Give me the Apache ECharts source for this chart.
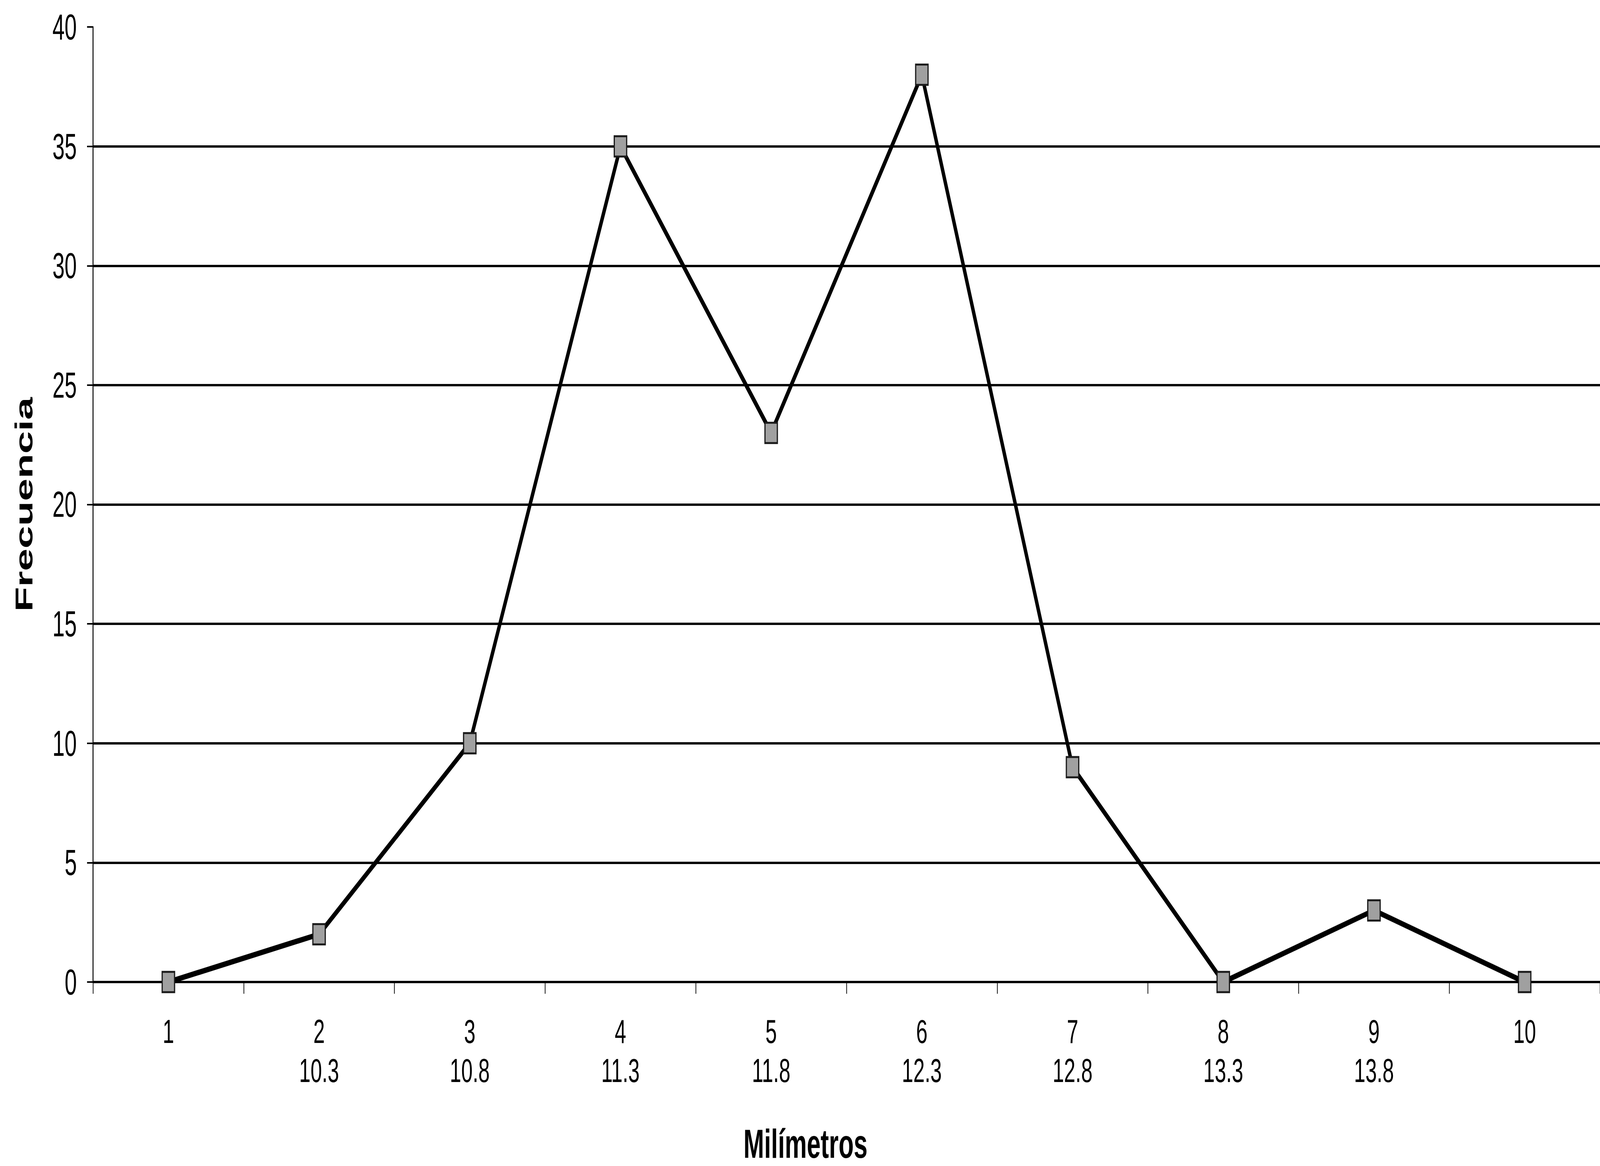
<!DOCTYPE html>
<html>
<head>
<meta charset="utf-8">
<script src="https://cdn.jsdelivr.net/npm/echarts@6/dist/echarts.min.js"></script>
<style>
html,body{margin:0;padding:0;background:#fff;overflow:hidden;}
#chart{width:6708px;height:2985px;transform-origin:0 0;}
</style>
</head>
<body>
<div id="chart"></div>
<script>
// Data
const classNumbers = ['1','2','3','4','5','6','7','8','9','10'];
const classMm      = ['', '10.3','10.8','11.3','11.8','12.3','12.8','13.3','13.8',''];
const frequencies  = [0, 2, 10, 35, 23, 38, 9, 0, 3, 0];
const yTicks       = [0, 5, 10, 15, 20, 25, 30, 35, 40];

const categories = classNumbers.map((n, i) => classMm[i] ? n + '\n' + classMm[i] : n);

// The design is laid out on a 6708x2985 canvas; fit it to the actual window.
const el = document.getElementById('chart');
const sx = Math.min(1, window.innerWidth / 6708);
const sy = Math.min(1, window.innerHeight / 2985);
if (sx !== 1 || sy !== 1) el.style.transform = 'scale(' + sx + ',' + sy + ')';

const chart = echarts.init(el, null, {renderer: 'svg', width: 6708, height: 2985});
const FONT = '"Liberation Sans", Arial, sans-serif';

chart.setOption({
  animation: false,
  backgroundColor: '#ffffff',
  grid: {left: 390, right: -15, top: 69, bottom: 2985 - 2522, containLabel: false},
  xAxis: {
    type: 'category',
    data: categories,
    boundaryGap: true,
    name: 'Milímetros',
    nameLocation: 'middle',
    nameGap: 362,
    nameTextStyle: {fontFamily: FONT, fontSize: 104, fontWeight: 'bold', color: '#000', padding: [0, 344, 0, 0]},
    axisLine: {show: true, lineStyle: {color: '#000', width: 6}},
    axisTick: {show: true, interval: 0, length: 30, lineStyle: {color: '#000', width: 3}},
    axisLabel: {interval: 0, margin: 76, fontFamily: FONT, fontSize: 86, lineHeight: 100, color: '#000'},
    splitLine: {show: false}
  },
  yAxis: {
    type: 'value',
    min: 0, max: 40, interval: 5,
    name: 'Frecuencia',
    nameLocation: 'middle',
    nameGap: 238,
    nameTextStyle: {fontFamily: FONT, fontSize: 104, fontWeight: 'bold', color: '#000'},
    axisLine: {show: true, lineStyle: {color: '#000', width: 4}},
    axisTick: {show: true, length: 25, lineStyle: {color: '#000', width: 4}},
    axisLabel: {margin: 68, fontFamily: FONT, fontSize: 92, color: '#000',
      formatter: v => yTicks.includes(v) ? String(v) : ''},
    splitLine: {show: true, showMaxLine: false, lineStyle: {color: '#000', width: 6}}
  },
  series: [{
    type: 'line',
    data: frequencies,
    lineStyle: {color: '#000', width: 14},
    symbol: 'rect',
    symbolSize: 52,
    itemStyle: {color: '#a0a0a0', borderColor: '#1a1a1a', borderWidth: 5},
    z: 5
  }]
});
</script>
</body>
</html>
